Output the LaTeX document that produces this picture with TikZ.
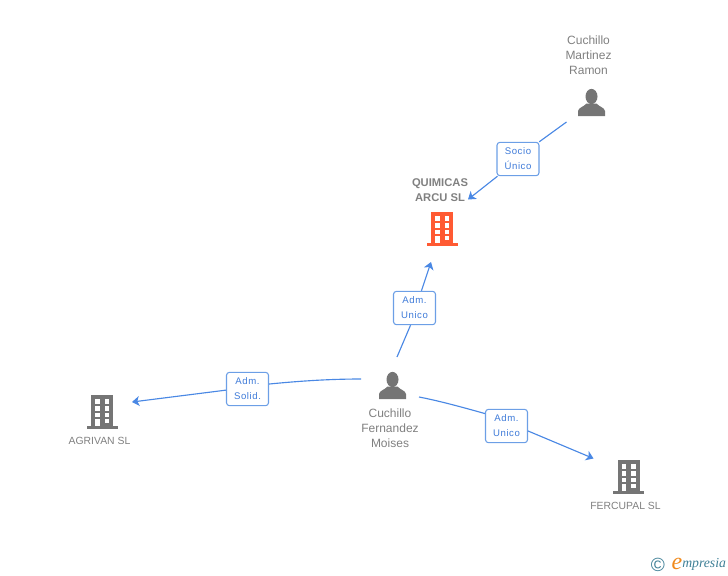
\documentclass[tikz,border=0pt]{standalone}
\usepackage{fontspec}
\setmainfont{Liberation Sans}
\newfontfamily\logofont{Liberation Serif}
\usetikzlibrary{arrows.meta}
\definecolor{edgeblue}{HTML}{4A88E4}
\definecolor{boxblue}{HTML}{6C9FE6}
\definecolor{labelblue}{HTML}{3F7BD9}
\definecolor{iconrgrey}{HTML}{757575}
\definecolor{textgrey}{HTML}{808080}
\definecolor{hotorange}{HTML}{FF5A33}
\definecolor{logoteal}{HTML}{3E7F96}
\definecolor{logoorange}{HTML}{F08A1D}
\tikzset{
  x=0.75pt,y=-0.75pt,
  pics/buildingicon/.style={code={
    \fill[#1] (-11,-16.7) rectangle (11.3,14);
    \fill[#1] (-15.3,14) rectangle (15.7,16.7);
    \fill[white] (-7,-12.7) rectangle (-2.3,-8);
    \fill[white] (2.7,-12.7) rectangle (7.3,-8);
    \fill[white] (-7,-6) rectangle (-2.3,-1.3);
    \fill[white] (2.7,-6) rectangle (7.3,-1.3);
    \fill[white] (-7,0.7) rectangle (-2.3,4.7);
    \fill[white] (2.7,0.7) rectangle (7.3,4.7);
    \fill[white] (-7,6.7) rectangle (-2.3,14);
    \fill[white] (2.7,6.7) rectangle (7.3,11.3);
  }},
  pics/personicon/.style={code={
    \fill[#1] (0,-6) ellipse (6 and 7.6);
    \fill[#1] (-13.5,13.5) -- (-13.5,8.5) .. controls (-13,5) and (-8,4.5) .. (-5,1)
      -- (5,1) .. controls (8,4.5) and (13,5) .. (13.5,8.5) -- (13.5,13.5) -- cycle;
  }},
  namelabel/.style={text=textgrey,font=\fontsize{9}{11.2}\selectfont,align=center,inner sep=0pt},
  firmlabel/.style={text=textgrey,font=\fontsize{7.8}{11.2}\selectfont,align=center,inner sep=0pt},
  mainlabel/.style={text=textgrey,font=\fontsize{8.4}{11.2}\selectfont\bfseries,align=center,inner sep=0pt},
  rolebox/.style={draw=boxblue,line width=0.8pt,rounded corners=2.2pt,fill=white,text=labelblue,
    font=\fontsize{7.2}{11.2}\selectfont\addfontfeatures{LetterSpace=6},align=center,
    minimum width=31.5pt,minimum height=25pt,inner sep=0pt},
  link/.style={draw=edgeblue,line width=0.85pt},
  linkarrow/.style={link,-{Stealth[length=5.5pt,width=7.5pt,inset=1.5pt]}},
}
\begin{document}
\begin{tikzpicture}
\useasboundingbox (0,0) rectangle (728,575);

% icons
\pic at (442,229) {buildingicon=hotorange};
\pic at (102,412) {buildingicon=iconrgrey};
\pic at (628.5,477) {buildingicon=iconrgrey};
\pic at (591.5,102.5) {personicon=iconrgrey};
\pic at (392.5,385.5) {personicon=iconrgrey};

% names
\node[namelabel] (martinez) at (588.5,55) {Cuchillo\\Martinez\\Ramon};
\node[mainlabel] (quimicas) at (440,190.5) {QUIMICAS\\ARCU SL};
\node[namelabel] (fernandez) at (390,428) {Cuchillo\\Fernandez\\Moises};
\node[firmlabel] (agrivan) at (99.5,441) {AGRIVAN SL};
\node[firmlabel] (fercupal) at (625.5,506) {FERCUPAL SL};

% role boxes
\node[rolebox] (socio) at (518,159) {Socio\\Único};
\node[rolebox] (admup) at (414.5,308) {Adm.\\Unico};
\node[rolebox] (admsolid) at (247.5,389) {Adm.\\Solid.};
\node[rolebox] (admdown) at (506.5,426) {Adm.\\Unico};

% connector ends
\coordinate (fromMartinez) at (566.5,122);
\coordinate (toQuimicas) at (468,199.5);
\coordinate (fromFernUp) at (397,357);
\coordinate (toQuimicasB) at (431,262);
\coordinate (fromFernLeft) at (361,379);
\coordinate (toAgrivan) at (132,402);
\coordinate (fromFernRight) at (419,397);
\coordinate (toFercupal) at (593.5,458.5);

% connectors
\draw[link] (fromMartinez) -- (socio.39);
\draw[linkarrow] (socio.220) -- (toQuimicas);
\draw[link] (fromFernUp) -- (admup.257);
\draw[linkarrow] (admup.68) -- (toQuimicasB);
\draw[link] (fromFernLeft) .. controls (330,379) and (300,381) .. (admsolid.13);
\draw[linkarrow] (admsolid.183) -- (toAgrivan);
\draw[link] (fromFernRight) .. controls (440,401) and (465,408) .. (admdown.150);
\draw[linkarrow] (admdown.-13) -- (toFercupal);

% logo
\node[inner sep=0pt,text=logoteal,font=\fontsize{14.3}{16}\selectfont] (copyr) at (658,564.5) {©};
\node[inner sep=0pt,text=logoorange,font=\logofont\itshape\fontsize{18}{18}\selectfont] (logoe) at (677,563.5) {e};
\node[inner sep=0pt,anchor=base west,text=logoteal,font=\logofont\itshape\fontsize{10.3}{10}\selectfont] (logot) at (682,567.5) {mpresia};
\end{tikzpicture}
\end{document}
